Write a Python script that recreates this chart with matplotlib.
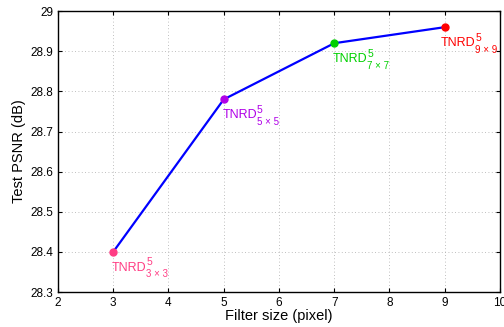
import matplotlib
matplotlib.use("Agg")
import matplotlib.pyplot as plt

filter_sizes = [3, 5, 7, 9]
psnr = [28.40, 28.78, 28.92, 28.96]
label_base = ["TNRD", "TNRD", "TNRD", "TNRD"]
label_sup = ["5", "5", "5", "5"]
label_sub = ["3 × 3", "5 × 5", "7 × 7", "9 × 9"]
colors = ["#ff3d84", "#b000e8", "#00d000", "#ff0000"]
xticks = [2, 3, 4, 5, 6, 7, 8, 9, 10]
yticks = [28.3, 28.4, 28.5, 28.6, 28.7, 28.8, 28.9, 29.0]

plt.rcParams['font.family'] = ['Liberation Sans', 'DejaVu Sans']

fig = plt.figure(figsize=(5.04, 3.27), dpi=100)
ax = fig.add_axes([0.115, 0.107, 0.877, 0.859])
ax.plot(filter_sizes, psnr, color="#0000ff", lw=1.6, zorder=3)
fig.canvas.draw()
renderer = fig.canvas.get_renderer()
x_shift = [-1, -1, -1, -3]
for x, y, c, b, sp, sb, dx in zip(filter_sizes, psnr, colors, label_base, label_sup, label_sub, x_shift):
    ax.plot(x, y, 'o', color=c, ms=5, zorder=4)
    t = ax.annotate(b, (x, y), xytext=(dx, -7), textcoords='offset points',
                    color=c, fontsize=9, ha='left', va='top')
    bb = t.get_window_extent(renderer)
    w_pts = bb.width * 72 / fig.dpi
    ax.annotate(sp, (x, y), xytext=(dx + w_pts, -4), textcoords='offset points',
                color=c, fontsize=7.5, ha='left', va='top')
    ax.annotate(sb, (x, y), xytext=(dx + w_pts, -12.5), textcoords='offset points',
                color=c, fontsize=7, ha='left', va='top')

ax.set_xlim(2, 10)
ax.set_ylim(28.3, 29.0)
ax.set_xticks(xticks)
ax.set_yticks(yticks)
ax.set_xticklabels([str(v) for v in xticks])
ax.set_yticklabels(["28.3", "28.4", "28.5", "28.6", "28.7", "28.8", "28.9", "29"])
ax.tick_params(direction='in', length=3, labelsize=8.5, top=True, right=True, width=0.8)
ax.grid(True, linestyle=(0, (1, 3)), color='#aaaaaa', lw=0.6)
for s in ax.spines.values():
    s.set_linewidth(1.0)
ax.set_xlabel("Filter size (pixel)", fontsize=10.5, labelpad=0)
ax.set_ylabel("Test PSNR (dB)", fontsize=10.5, labelpad=3)
fig.savefig("out.png", dpi=100)
